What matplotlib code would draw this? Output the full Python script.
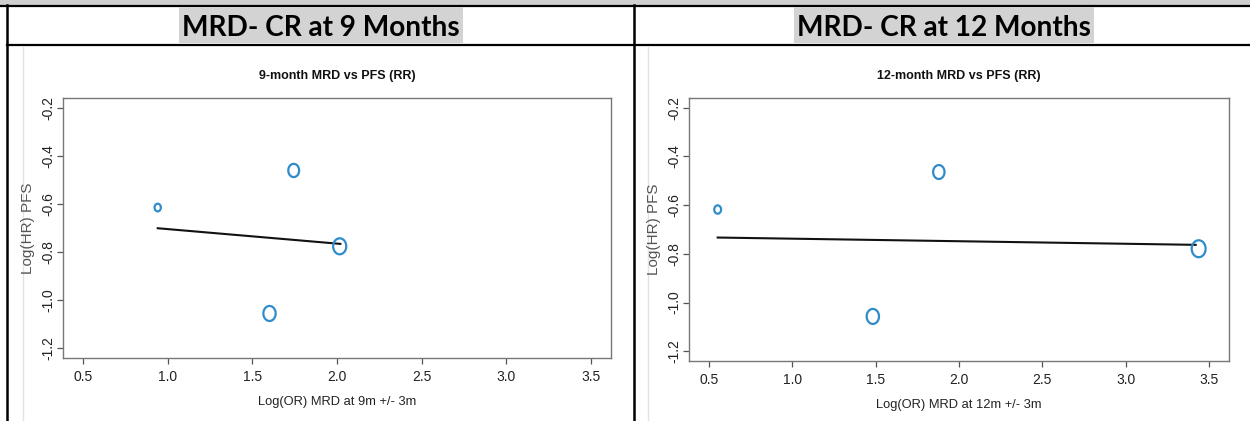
import numpy as np
import matplotlib

matplotlib.use("Agg")
import matplotlib.pyplot as plt
from matplotlib.markers import MarkerStyle
from matplotlib.patches import Rectangle

W, H = 1250, 421

# 9-month panel: log(OR) MRD vs log(HR) PFS, marker height ~ study weight
or9 = [0.94, 1.744, 2.016, 1.601]
hr9 = [-0.615, -0.461, -0.776, -1.055]
wt9 = [5.5, 9.5, 11.5, 10.8]
fit9_x = [0.94, 2.02]
fit9_y = [-0.701, -0.766]

# 12-month panel
or12 = [0.552, 1.879, 1.483, 3.438]
hr12 = [-0.618, -0.464, -1.057, -0.779]
wt12 = [6.0, 10.0, 10.8, 12.2]
fit12_x = [0.552, 3.42]
fit12_y = [-0.733, -0.763]

headers = ["MRD- CR at 9 Months", "MRD- CR at 12 Months"]
titles = ["9-month MRD vs PFS (RR)", "12-month MRD vs PFS (RR)"]
xlabels = ["Log(OR) MRD at 9m +/- 3m", "Log(OR) MRD at 12m +/- 3m"]
xticks = [0.5, 1.0, 1.5, 2.0, 2.5, 3.0, 3.5]
yticks = [-1.2, -1.0, -0.8, -0.6, -0.4, -0.2]

BLUE = "#2e8ccb"
RFONT = ["Liberation Sans", "DejaVu Sans"]

# slightly tall ellipse, the R png was squeezed sideways when pasted
t = np.linspace(0, 2 * np.pi, 80)
ellipse = MarkerStyle(np.column_stack([0.82 * np.cos(t), np.sin(t)]))


def px_axes(fig, left, top, right, bottom):
    return fig.add_axes([left / W, 1 - bottom / H, (right - left) / W, (bottom - top) / H])


fig = plt.figure(figsize=(W / 100, H / 100), dpi=100)

# table frame drawn in pixel space
bg = fig.add_axes([0, 0, 1, 1], zorder=0)
bg.set_xlim(0, W)
bg.set_ylim(H, 0)
bg.axis("off")
bg.fill_between([0, W], 0, 4.5, color="#cfcfcf", lw=0)
bg.plot([0, W], [5.5, 5.5], color="black", lw=1.6)
bg.plot([7, W], [45, 45], color="black", lw=1.6)
bg.plot([7, 7], [5, H], color="black", lw=1.8)
bg.plot([634, 634], [5, H], color="black", lw=1.8)
bg.plot([23, 23], [47, H], color="#e2e2e2", lw=1.0)
bg.plot([648, 648], [47, H], color="#e2e2e2", lw=1.0)
head_texts = []
for cx, label in zip([321, 944], headers):
    head_texts.append(bg.text(cx, 36, label, ha="center", va="baseline", fontsize=20.2,
                              family=["Lato", "DejaVu Sans"], fontweight="bold",
                              color="black", zorder=3))

# grey highlight behind each header, as wide as the text
fig.canvas.draw()
inv = bg.transData.inverted()
for txt in head_texts:
    ext = txt.get_window_extent()
    x0 = inv.transform((ext.x0, 0))[0]
    x1 = inv.transform((ext.x1, 0))[0]
    bg.add_patch(Rectangle((x0 - 3, 7), x1 - x0 + 6, 36, fc="#d3d3d3", ec="none", zorder=2))

panels = [
    ((63, 98, 611, 358), or9, hr9, wt9, fit9_x, fit9_y),
    ((689, 98, 1229, 361), or12, hr12, wt12, fit12_x, fit12_y),
]

for i, (box, xs, ys, ws, fx, fy) in enumerate(panels):
    ax = px_axes(fig, *box)
    ax.plot(fx, fy, color="#111111", lw=1.5, zorder=2)
    ax.scatter(xs, ys, s=np.array(ws) ** 2, marker=ellipse, facecolors="none",
               edgecolors=BLUE, linewidths=1.6, zorder=3)
    ax.set_xlim(0.38, 3.62)
    ax.set_ylim(-1.24, -0.16)
    ax.set_xticks(xticks)
    ax.set_xticklabels([f"{v:.1f}" for v in xticks], family=RFONT, fontsize=10)
    ax.set_yticks(yticks)
    ax.set_yticklabels([f"{v:.1f}" for v in yticks], family=RFONT, fontsize=10,
                       rotation=90, va="center")
    ax.tick_params(direction="out", length=4.3, width=0.9, color="#555555",
                   labelcolor="#222222", pad=4)
    ax.tick_params(axis="y", pad=1.5)
    for sp in ax.spines.values():
        sp.set_color("#777777")
        sp.set_linewidth(1.0)
    ax.set_title(titles[i], family=RFONT, fontsize=9, fontweight="bold",
                 color="#111111", pad=14)
    ax.set_xlabel(xlabels[i], family=RFONT, fontsize=9.3, color="#222222", labelpad=9)
    ax.set_ylabel("Log(HR) PFS", family=RFONT, fontsize=11, color="#555555", labelpad=4)

fig.savefig("out.png", dpi=100)
